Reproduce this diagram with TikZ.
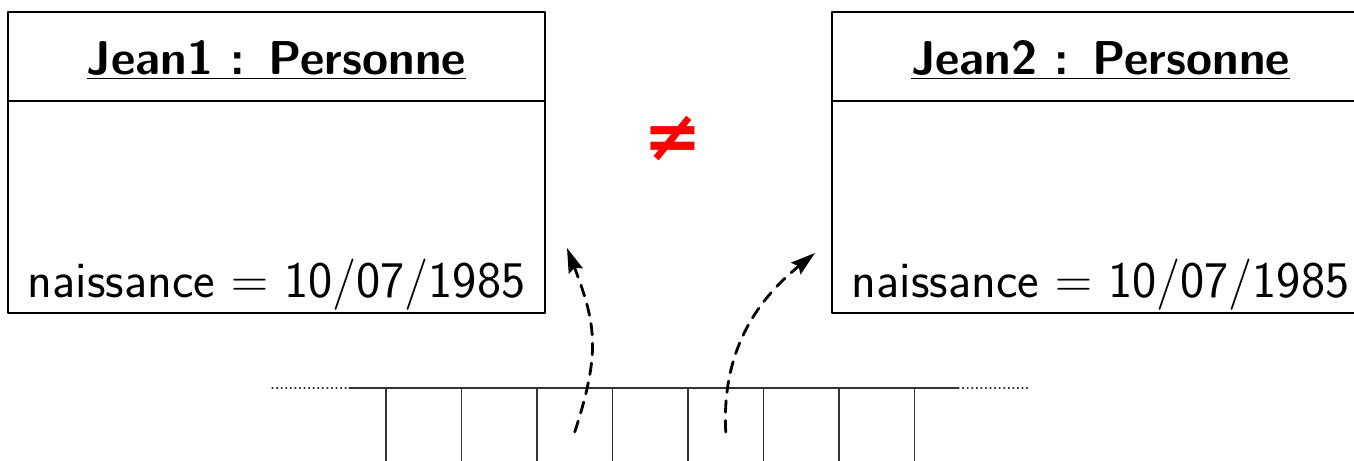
\RequirePackage{fix-cm}
\documentclass[tikz,border=0pt]{standalone}
\usepackage{fontspec}
\newfontfamily\symbole{DejaVu Sans}
\usetikzlibrary{arrows.meta}
\begin{document}
\begin{tikzpicture}[line join=round,line cap=round,font=\sffamily,
	objet/.style={draw,line width=0.8pt},
	titre/.style={anchor=base,font=\sffamily\bfseries\fontsize{27}{32}\selectfont},
	attribut/.style={anchor=base,font=\sffamily\fontsize{29.2}{34}\selectfont},
	pointeur/.style={line width=1.6pt,dash pattern=on 6.5pt off 4.8pt,-{Stealth[length=14pt,width=8.5pt,inset=2pt]}}]
	\def\larg{27.08} \def\haut{9.22} \def\boite{10.74} \def\case{1.51} \def\mem{1.46}
	\useasboundingbox (0,0) rectangle (\larg,\haut);
	\clip (0,0) rectangle (\larg,\haut);
	\path
	(0.16,2.96) coordinate (A)
	(16.64,2.96) coordinate (B)
	(11.34,4.26) coordinate (P1)
	(16.30,4.16) coordinate (P2)
	;
	% les deux objets
	\draw[objet] (A) rectangle ++(\boite,6.02);
	\draw[objet] (A)++(0,4.24) -- ++(\boite,0);
	\draw[objet] (B) rectangle ++(\boite,6.02);
	\draw[objet] (B)++(0,4.24) -- ++(\boite,0);
	\node[titre] (jean1) at (5.53,7.72) {\underline{Jean1 : Personne}};
	\node[attribut] (naiss1) at (5.53,3.26) {naissance $=$ 10/07/1985};
	\node[titre] (jean2) at (22.01,7.72) {\underline{Jean2 : Personne}};
	\node[attribut] (naiss2) at (22.01,3.26) {naissance $=$ 10/07/1985};
	\node[red,font=\symbole\bfseries\fontsize{40}{44}\selectfont] (diff) at (13.45,6.44) {≠};
	% la memoire
	\draw[black!80,line width=0.6pt] (6.98,\mem) -- (19.16,\mem);
	\draw[black!80,line width=0.6pt,dotted] (5.44,\mem) -- (6.98,\mem) (19.16,\mem) -- (20.56,\mem);
	\foreach \i in {0,...,7}
	\draw[black!80,line width=0.6pt] (7.72+\i*\case,\mem) -- (7.72+\i*\case,0);
	\foreach \i in {0,...,6}
	\coordinate (m\i) at (7.72+\i*\case+0.5*\case,0.58);
	\draw[pointeur] (m2) to[out=72,in=-69,looseness=1.15] (P1);
	\draw[pointeur] (m4) to[out=93,in=-141] (P2);
\end{tikzpicture}
\end{document}
